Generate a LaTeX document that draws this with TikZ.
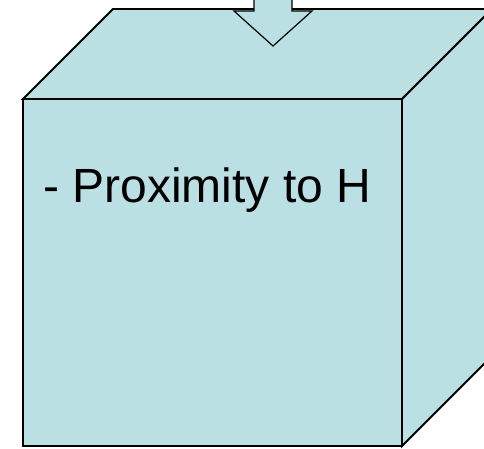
\documentclass[tikz,border=0pt]{standalone}
\usepackage{fontspec}
\setmainfont{Liberation Sans}
\definecolor{cubeblue}{RGB}{187,224,227}
\tikzset{face/.style={fill=cubeblue, draw=black, line width=1.9pt, line join=miter}}
\tikzset{blockarrow/.style={fill=cubeblue, draw=black, line width=1.2pt, line join=miter}}
\tikzset{label/.style={anchor=base west, inner sep=0pt, font=\fontsize{48}{58}\selectfont}}

\begin{document}
\begin{tikzpicture}[x=1pt, y=-1pt]
  \useasboundingbox (0,0) rectangle (484,448);
  \clip (0,0) rectangle (484,448);
  % cube corners
  \coordinate (ftl) at (23,99);
  \coordinate (ftr) at (402,99);
  \coordinate (fbr) at (402,446);
  \coordinate (fbl) at (23,446);
  \coordinate (btl) at (113,9);
  \coordinate (btr) at (492,9);
  \coordinate (bbr) at (492,356);
  % top, side, front faces
  \draw[face] (ftl) -- (btl) -- (btr) -- (ftr) -- cycle;
  \draw[face] (ftr) -- (btr) -- (bbr) -- (fbr) -- cycle;
  \draw[face] (ftl) -- (ftr) -- (fbr) -- (fbl) -- cycle;
  % arrow into the top
  \draw[blockarrow] (254,-5) -- (254,11) -- (234,11) -- (273,46) -- (312,11) -- (292,11) -- (292,-5) -- cycle;
  \node[label] (prox) at (43,202) {- Proximity to H};
\end{tikzpicture}
\end{document}
